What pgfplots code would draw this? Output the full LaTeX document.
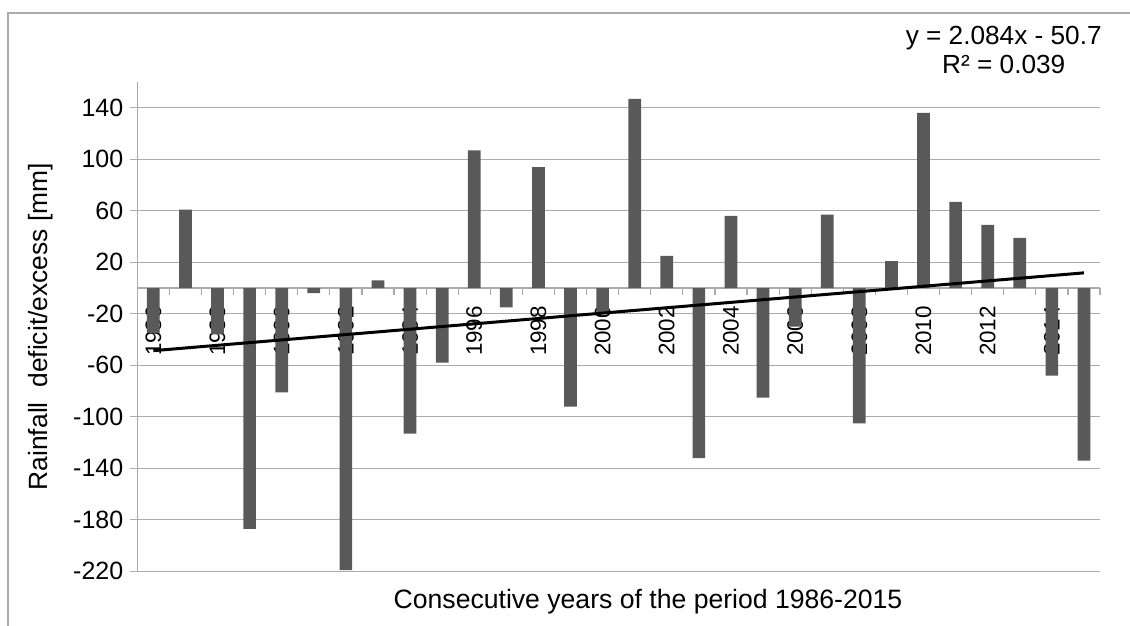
\documentclass[border=0pt]{standalone}
\usepackage{pgfplots}
\pgfplotsset{compat=1.18}
\usepackage{fontspec}
\setmainfont{Liberation Sans}
\definecolor{barc}{HTML}{595959}
\definecolor{gridc}{HTML}{ABABAB}
\pgfplotsset{
  layers/mylayers/.define layer set={axis background,axis grid,pre main,main,axis ticks,axis lines,axis tick labels,axis descriptions,axis foreground}{},
}
\begin{document}
\begin{tikzpicture}
\begin{axis}[
  set layers=mylayers,
  at={(0,0)}, anchor=south west,
  scale only axis,
  width=481.35pt, height=244.6pt,
  xmin=0.5, xmax=30.5,
  ymin=-220, ymax=160,
  axis x line*=middle,
  axis y line*=left,
  axis line style={gridc, line width=0.6pt},
  ytick={-220,-180,-140,-100,-60,-20,20,60,100,140},
  yticklabels={-220,-180,-140,-100,-60,-20,20,60,100,140},
  ymajorgrids,
  grid style={gridc, line width=0.6pt},
  ytick align=outside,
  xtick align=outside,
  tick style={gridc, line width=0.6pt},
  major tick length=3.5pt,
  xtick={0.5,1.5,...,30.5},
  xticklabel=\empty,
  extra x ticks={1,3,5,7,9,11,13,15,17,19,21,23,25,27,29},
  extra x tick labels={1986,1988,1990,1992,1994,1996,1998,2000,2002,2004,2006,2008,2010,2012,2014},
  extra x tick style={major tick length=0pt, grid=none},
  xticklabel style={rotate=90, anchor=east, font=\fontsize{11.2}{13}\selectfont, xshift=-5.5pt},
  yticklabel style={font=\fontsize{12.5}{14}\selectfont},
  ylabel={Rainfall\ \ deficit/excess [mm]},
  ylabel style={at={(axis description cs:-0.1,0.5)}, anchor=center, font=\fontsize{13.2}{15}\selectfont},
  xlabel={Consecutive years of the period 1986-2015},
  xlabel style={at={(axis description cs:0.5305,-0.0751)}, anchor=base, font=\fontsize{13.3}{15}\selectfont},
  clip=false,
]
\addplot[ybar, bar width=6.35pt, fill=barc, draw=none] coordinates {
(1,-35) (2,61) (3,-36) (4,-187) (5,-81) (6,-4) (7,-219) (8,6) (9,-113) (10,-58)
(11,107) (12,-15) (13,94) (14,-92) (15,-20) (16,147) (17,25) (18,-132) (19,56) (20,-85)
(21,-30) (22,57) (23,-105) (24,21) (25,136) (26,67) (27,49) (28,39) (29,-68) (30,-134)
};
\addplot[black, line width=1.5pt, on layer=axis foreground] coordinates {(1,-48.616) (30,11.82)};
\node[anchor=base, font=\fontsize{13.1}{15}\selectfont] at (axis cs:27.5,189.3) {y = 2.084x - 50.7};
\node[anchor=base, font=\fontsize{13.1}{15}\selectfont] at (axis cs:27.5,166.8) {R² = 0.039};
\end{axis}
\pgfresetboundingbox
\useasboundingbox (-68.65pt,-27.35pt) rectangle (496.35pt,285.65pt);
\draw[gridc, line width=0.6pt] (-64.65pt,-60pt) rectangle (540pt,279.15pt);
\end{tikzpicture}
\end{document}
